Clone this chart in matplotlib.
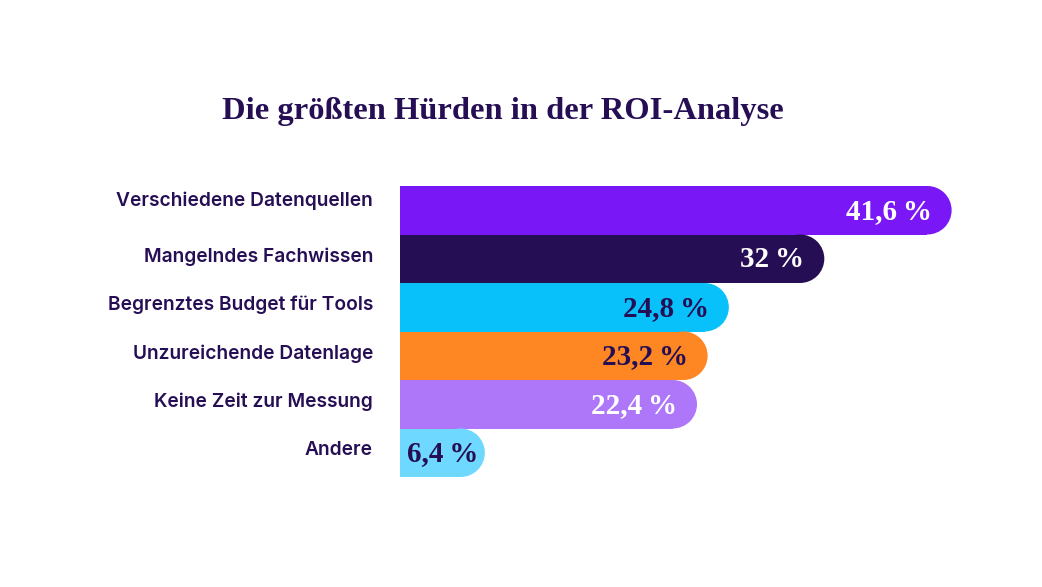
import matplotlib.pyplot as plt
from matplotlib.patches import Ellipse

categories = ['Verschiedene Datenquellen', 'Mangelndes Fachwissen',
              'Begrenztes Budget für Tools', 'Unzureichende Datenlage',
              'Keine Zeit zur Messung', 'Andere']
values = [41.6, 32, 24.8, 23.2, 22.4, 6.4]
value_labels = ['41,6\u2009%', '32\u2009%', '24,8\u2009%', '23,2\u2009%', '22,4\u2009%', '6,4\u2009%']
bar_colors = ['#7a17f6', '#260e55', '#09c1fa', '#ff8723', '#ae77fa', '#6ed8fe']
text_colors = ['white', 'white', '#260e55', '#260e55', 'white', '#260e55']

DARK = '#260e55'
W, H = 1042, 587
fig = plt.figure(figsize=(W / 100, H / 100), dpi=100)

# axes placed in pixels: bars start at x=400, span y 186..477
ax_left, ax_w = 400, 600
ax_top, ax_bot = 186, 477
ax = fig.add_axes([ax_left / W, 1 - ax_bot / H, ax_w / W, (ax_bot - ax_top) / H])
px_per_unit = 13.26
ax.set_xlim(0, ax_w / px_per_unit)
ax.set_ylim(len(values) - 0.5, -0.5)
ax.axis('off')

row_px = (ax_bot - ax_top) / len(values)
rx = (row_px / 2) / px_per_unit  # radius of round end in data units

for i, (v, c) in enumerate(zip(values, bar_colors)):
    ax.barh(i, v - rx, height=1.0, left=0, color=c, linewidth=0)
    ax.add_patch(Ellipse((v - rx, i), 2 * rx, 1.0, color=c, linewidth=0))

pad = 20 / px_per_unit
for i, (v, lab, tc) in enumerate(zip(values, value_labels, text_colors)):
    if v < 10:
        ax.text(0.55, i + 0.02, lab, ha='left', va='center', color=tc,
                fontsize=21, fontweight='bold', family='Liberation Serif')
    else:
        ax.text(v - pad, i + 0.02, lab, ha='right', va='center', color=tc,
                fontsize=21, fontweight='bold', family='Liberation Serif')

# category labels to the left of the bars
for i, cat in enumerate(categories):
    dy = -0.2 if i == 0 else -0.05
    ax.text(-27 / px_per_unit, i + dy, cat, ha='right', va='center', color=DARK,
            fontsize=13.8, fontweight='semibold', family='Inter')

fig.text(503 / W, 1 - 112 / H, 'Die größten Hürden in der ROI-Analyse',
         ha='center', va='center', color=DARK, fontsize=23.4,
         fontweight='bold', family='Liberation Serif')

fig.savefig('out.png', dpi=100, facecolor='white')
